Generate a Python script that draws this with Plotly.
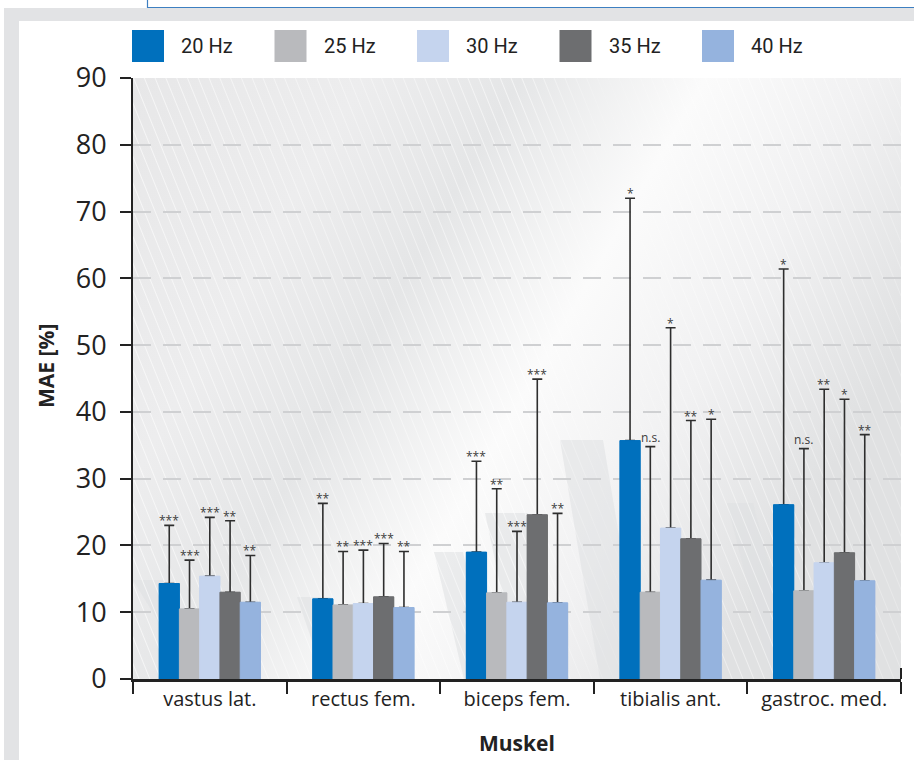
import base64
import plotly.graph_objects as go

# ---------------- data ----------------
muscles = ["vastus lat.", "rectus fem.", "biceps fem.", "tibialis ant.", "gastroc. med."]
series_names = ["20 Hz", "25 Hz", "30 Hz", "35 Hz", "40 Hz"]

mae_20 = [14.3, 12.0, 19.0, 35.7, 26.1]
mae_25 = [10.5, 11.1, 12.9, 13.0, 13.2]
mae_30 = [15.4, 11.3, 11.5, 22.6, 17.4]
mae_35 = [13.0, 12.3, 24.6, 21.0, 18.9]
mae_40 = [11.5, 10.7, 11.4, 14.8, 14.7]

sd_20 = [8.7, 14.3, 13.6, 36.3, 35.3]
sd_25 = [7.3, 8.0, 15.6, 21.8, 21.3]
sd_30 = [8.8, 8.0, 10.6, 30.0, 26.0]
sd_35 = [10.7, 8.0, 20.3, 17.7, 23.0]
sd_40 = [7.0, 8.4, 13.4, 24.1, 21.9]

sig_20 = ["***", "**", "***", "*", "*"]
sig_25 = ["***", "**", "**", "n.s.", "n.s."]
sig_30 = ["***", "***", "***", "*", "**"]
sig_35 = ["**", "***", "***", "**", "*"]
sig_40 = ["**", "**", "**", "*", "**"]

y_ticks = [0, 10, 20, 30, 40, 50, 60, 70, 80, 90]

colors = ["#0070bd", "#b9babd", "#c5d4ee", "#6d6e70", "#95b3de"]

means = [mae_20, mae_25, mae_30, mae_35, mae_40]
sds = [sd_20, sd_25, sd_30, sd_35, sd_40]
sigs = [sig_20, sig_25, sig_30, sig_35, sig_40]

# ---------------- layout geometry ----------------
W, H = 914, 760
ML, MR, MT, MB = 133, 13, 78, 81
PW, PH = W - ML - MR, H - MT - MB
BARGAP = 0.34

def px_x(px):
    return (px - ML) / PW

def px_y(py):
    return (H - MB - py) / PH

fig = go.Figure()

# bars with one-sided (upper) error bars
for i, name in enumerate(series_names):
    fig.add_trace(go.Bar(
        name=name, x=muscles, y=means[i], offsetgroup=str(i),
        marker=dict(color=colors[i], line=dict(width=0)),
        error_y=dict(type="data", array=sds[i], arrayminus=[0] * len(muscles),
                     symmetric=False, color="#2e2e2e", thickness=1.6, width=5),
        showlegend=False, hoverinfo="skip",
    ))
# same bars drawn again on top so the lower error-bar caps are hidden
for i, name in enumerate(series_names):
    fig.add_trace(go.Bar(
        name=name, x=muscles, y=means[i], offsetgroup=str(i),
        marker=dict(color=colors[i], line=dict(width=1, color=colors[i])),
        showlegend=False,
    ))

# significance labels above the error bars
bar_px = PW / len(muscles) * (1 - BARGAP) / len(series_names)
annotations = []
for i in range(len(series_names)):
    for j, m in enumerate(muscles):
        lab = sigs[i][j]
        annotations.append(dict(
            x=m, y=means[i][j] + sds[i][j], xref="x", yref="y",
            text=lab, showarrow=False, yanchor="bottom", xanchor="center",
            xshift=(i - (len(series_names) - 1) / 2) * bar_px,
            yshift=0 if lab == "n.s." else -5,
            borderpad=0,
            font=dict(family="Open Sans, DejaVu Sans, sans-serif",
                      size=12, color="#3c3c3c"),
        ))

# axis titles
annotations.append(dict(x=px_x(46), y=px_y(366), xref="paper", yref="paper",
                        xanchor="center", yanchor="middle",
                        text="MAE [%]", textangle=-90, showarrow=False,
                        font=dict(family="Open Sans, sans-serif", size=21,
                                  color="#222222", weight="bold")))
annotations.append(dict(x=0.5, y=px_y(743), xref="paper", yref="paper",
                        xanchor="center", yanchor="middle",
                        text="Muskel", showarrow=False,
                        font=dict(family="Open Sans, sans-serif", size=21,
                                  color="#222222", weight="bold")))

shapes = []
# page frame: grey strips and top blue box
shapes.append(dict(type="rect", xref="paper", yref="paper",
                   x0=px_x(4), x1=px_x(19), y0=px_y(H + 2), y1=px_y(8),
                   fillcolor="#e2e3e5", line=dict(width=0), layer="below"))
shapes.append(dict(type="rect", xref="paper", yref="paper",
                   x0=px_x(4), x1=px_x(W + 2), y0=px_y(21), y1=px_y(8),
                   fillcolor="#e2e3e5", line=dict(width=0), layer="below"))
shapes.append(dict(type="rect", xref="paper", yref="paper",
                   x0=px_x(147.5), x1=px_x(W + 5), y0=px_y(7.5), y1=px_y(-5),
                   fillcolor="#ffffff", line=dict(width=1.2, color="#3d7fc1"), layer="below"))

# custom legend
LEG_X0, LEG_STEP, BOX, TXT_OFF = 132, 142.5, 32, 47
for i, name in enumerate(series_names):
    bx = LEG_X0 + i * LEG_STEP
    shapes.append(dict(type="rect", xref="paper", yref="paper",
                       x0=px_x(bx), x1=px_x(bx + BOX), y0=px_y(62), y1=px_y(30),
                       fillcolor=colors[i], line=dict(width=0)))
    annotations.append(dict(x=px_x(bx + TXT_OFF), y=px_y(46), xref="paper", yref="paper",
                            text=name, showarrow=False, xanchor="left", yanchor="middle",
                            font=dict(family="Roboto, sans-serif", size=20, color="#222222")))

# small upward tick at the right end of the x axis
shapes.append(dict(type="line", xref="paper", yref="paper",
                   x0=1, x1=1, y0=0, y1=px_y(H - MB - 11),
                   line=dict(color="#222222", width=2)))

# decorative background (gradient, faint slanted shapes, diagonal stripes)
deco = [
    (0, 502, 30, 60),
    (164, 519, 33, 28),
    (301, 474, 29, 30),
    (352, 435, 43, 35),
    (427, 362, 43, 40),
    (594, 425, 26, 45),
]
polys = ""
for x0, y0, w, slant in deco:
    polys += (f"<polygon points='{x0},{y0} {x0 + w},{y0} {x0 + w + slant},{PH} {x0 + slant},{PH}' "
              f"fill='#dfe0e1' fill-opacity='0.55'/>")
svg = f"""<svg xmlns='http://www.w3.org/2000/svg' width='{PW}' height='{PH}' viewBox='0 0 {PW} {PH}' preserveAspectRatio='none'>
<defs>
<linearGradient id='g' x1='0' y1='0' x2='1' y2='0.45'>
<stop offset='0' stop-color='#e7e7e8'/>
<stop offset='0.25' stop-color='#ededee'/>
<stop offset='0.42' stop-color='#e5e6e7'/>
<stop offset='0.62' stop-color='#fbfbfb'/>
<stop offset='0.8' stop-color='#f1f1f2'/>
<stop offset='1' stop-color='#e0e1e2'/>
</linearGradient>
<pattern id='p' width='10' height='10' patternUnits='userSpaceOnUse' patternTransform='rotate(-22)'>
<line x1='0' y1='0' x2='0' y2='10' stroke='#ffffff' stroke-width='1.3' stroke-opacity='0.95'/>
</pattern>
<linearGradient id='m' x1='0' y1='0' x2='1' y2='0'>
<stop offset='0' stop-color='#fff' stop-opacity='1'/>
<stop offset='0.3' stop-color='#fff' stop-opacity='0.6'/>
<stop offset='0.5' stop-color='#fff' stop-opacity='0.95'/>
<stop offset='0.62' stop-color='#fff' stop-opacity='0.15'/>
<stop offset='0.8' stop-color='#fff' stop-opacity='0.8'/>
<stop offset='1' stop-color='#fff' stop-opacity='0.4'/>
</linearGradient>
<mask id='mk'><rect width='{PW}' height='{PH}' fill='url(#m)'/></mask>
</defs>
<rect width='{PW}' height='{PH}' fill='url(#g)'/>
{polys}
<rect width='{PW}' height='{PH}' fill='url(#p)' mask='url(#mk)'/>
</svg>"""
bg_src = "data:image/svg+xml;base64," + base64.b64encode(svg.encode()).decode()

fig.update_layout(
    width=W, height=H,
    margin=dict(l=ML, r=MR, t=MT, b=MB, pad=0),
    paper_bgcolor="#ffffff",
    plot_bgcolor="rgba(0,0,0,0)",
    barmode="group",
    bargap=BARGAP,
    bargroupgap=0,
    showlegend=False,
    font=dict(family="Open Sans, sans-serif", color="#222222"),
    images=[dict(source=bg_src, xref="paper", yref="paper", x=0, y=1,
                 sizex=1, sizey=1, xanchor="left", yanchor="top",
                 sizing="stretch", layer="below")],
    annotations=annotations,
    shapes=shapes,
    xaxis=dict(
        showline=True, linecolor="#222222", linewidth=2.5,
        ticks="outside", tickson="boundaries", ticklen=12, tickwidth=2, tickcolor="#222222",
        tickfont=dict(family="Open Sans, sans-serif", size=20, color="#222222"),
        showgrid=False, zeroline=False,
    ),
    yaxis=dict(
        range=[0, 90], tickvals=y_ticks,
        showline=True, linecolor="#222222", linewidth=2,
        ticks="outside", ticklen=11, tickwidth=2, tickcolor="#222222",
        ticklabelstandoff=8,
        tickfont=dict(family="Open Sans, sans-serif", size=27, color="#222222"),
        showgrid=True, gridcolor="#cfd0d2", gridwidth=2, griddash="18px,12px",
        zeroline=False,
    ),
)

fig.write_html(
    "out.html",
    config={"displayModeBar": False},
    post_script="document.body.style.margin='0';document.body.style.padding='0';"
                "document.documentElement.style.overflow='hidden';",
)
